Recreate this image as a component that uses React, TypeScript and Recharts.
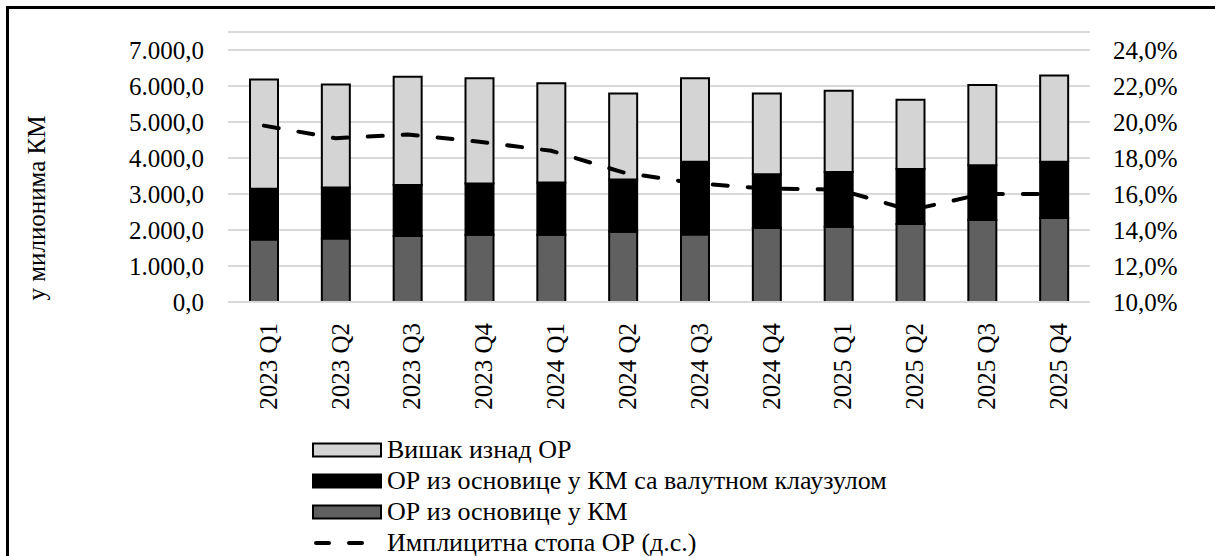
import React from 'react';
import { ComposedChart, Bar, Line, XAxis, YAxis, CartesianGrid, Legend, ReferenceArea } from 'recharts';

const quarters = ['2023 Q1', '2023 Q2', '2023 Q3', '2023 Q4', '2024 Q1', '2024 Q2', '2024 Q3', '2024 Q4', '2025 Q1', '2025 Q2', '2025 Q3', '2025 Q4'];
// у милионима КМ
const rrKm = [1739, 1767, 1832, 1869, 1869, 1952, 1878, 2054, 2091, 2165, 2276, 2331];
const rrKmFx = [1406, 1415, 1415, 1424, 1452, 1452, 2017, 1498, 1517, 1526, 1526, 1564];
const surplus = [3034, 2859, 3007, 2923, 2757, 2387, 2321, 2239, 2257, 1924, 2229, 2395];
// имплицитна стопа, %
const impliedRate = [19.8, 19.1, 19.3, 18.9, 18.4, 17.2, 16.6, 16.3, 16.25, 15.1, 16.0, 16.0];

const leftTicks = [0, 1000, 2000, 3000, 4000, 5000, 6000, 7000];
const rightTicks = [10, 12, 14, 16, 18, 20, 22, 24];

const FONT = 'Liberation Serif, Tinos, Times New Roman, DejaVu Serif, Noto Serif, FreeSerif, serif';
const W = 1215;
const H = 556;
const PLOT_LEFT = 228;
const PLOT_RIGHT = 1090;
const PLOT_TOP = 32;
const PLOT_BOTTOM = 302;

const chartData = quarters.map((q, i) => ({
  q,
  km: rrKm[i],
  kmFx: rrKmFx[i],
  surplus: surplus[i],
  rate: impliedRate[i],
}));

const legendItems = [
  { name: 'Вишак изнад ОР', fill: '#d4d4d4', kind: 'bar' },
  { name: 'ОР из основице у КМ са валутном клаузулом', fill: '#000000', kind: 'bar' },
  { name: 'ОР из основице у КМ', fill: '#606060', kind: 'bar' },
  { name: 'Имплицитна стопа ОР (д.с.)', fill: '#000000', kind: 'line' },
];

const fmtLeft = (v: number) => {
  const [i, d] = v.toFixed(1).split('.');
  return i.replace(/\B(?=(\d{3})+(?!\d))/g, '.') + ',' + d;
};
const fmtRight = (v: number) => v.toFixed(1).replace('.', ',') + '%';

const XTick = (props: any) => {
  const { x, y, payload } = props;
  return (
    <text
      x={x + 4}
      y={y}
      transform={`rotate(-90, ${x + 4}, ${y})`}
      textAnchor="end"
      dy="0.35em"
      fill="#000"
      fontSize={25}
      style={{ fontFamily: FONT }}
    >
      {payload.value}
    </text>
  );
};

// axis title sits a bit below the plot centre, as in the source
const YTitle = () => {
  const cy = 208;
  return (
    <text x={36} y={cy} transform={`rotate(-90, 36, ${cy})`} textAnchor="middle" dy="0.35em" fill="#000" fontSize={25} style={{ fontFamily: FONT }}>
      у милионима КМ
    </text>
  );
};

const LegendBox = () => (
  <div style={{ fontFamily: FONT, fontSize: 26, color: '#000' }}>
    {legendItems.map((it) => (
      <div key={it.name} style={{ display: 'flex', alignItems: 'center', height: 31, whiteSpace: 'nowrap' }}>
        <svg width={70} height={16} style={{ marginRight: 5 }}>
          {it.kind === 'bar' ? (
            <rect x={1} y={1.5} width={68} height={13} fill={it.fill} stroke="#000" strokeWidth={2} />
          ) : (
            <line x1={4} y1={8} x2={60} y2={8} stroke="#000" strokeWidth={4} strokeDasharray="13 20" strokeLinecap="round" />
          )}
        </svg>
        <span>{it.name}</span>
      </div>
    ))}
  </div>
);

export default function App() {
  const pw = PLOT_RIGHT - PLOT_LEFT;
  const ph = PLOT_BOTTOM - PLOT_TOP;
  const tickStyle = { fill: '#000', fontSize: 25, style: { fontFamily: FONT } };
  return (
    <div style={{ position: 'fixed', left: 0, top: 0, width: W, height: H, overflow: 'hidden', background: '#fff', fontFamily: FONT }}>
      <div style={{ position: 'absolute', left: 6, top: 6, width: 1400, height: 800, border: '3px solid #000' }} />
      <div style={{ position: 'absolute', left: 0, top: 0 }}>
        <ComposedChart width={W} height={H} data={chartData} margin={{ top: PLOT_TOP, right: 0, bottom: 0, left: 0 }} barGap={0} style={{ fontFamily: FONT }}>
          <CartesianGrid vertical={false} stroke="#d9d9d9" strokeWidth={2} yAxisId="left" />
          <XAxis
            dataKey="q"
            height={H - PLOT_BOTTOM}
            tickLine={false}
            axisLine={{ stroke: '#d9d9d9', strokeWidth: 2 }}
            tick={<XTick />}
            tickMargin={15}
            interval={0}
          />
          <YAxis
            yAxisId="left"
            width={PLOT_LEFT}
            domain={[0, 7500]}
            ticks={leftTicks}
            tickFormatter={fmtLeft}
            tickLine={false}
            axisLine={false}
            tickMargin={18}
            tick={tickStyle}
            label={<YTitle />}
          />
          <YAxis
            yAxisId="right"
            orientation="right"
            width={W - PLOT_RIGHT}
            domain={[10, 25]}
            ticks={rightTicks}
            tickFormatter={fmtRight}
            tickLine={false}
            axisLine={false}
            tickMargin={17}
            tick={{ ...tickStyle, textAnchor: 'start' }}
          />
          <Bar yAxisId="left" dataKey="km" name="ОР из основице у КМ" stackId="a" fill="#606060" stroke="#000" strokeWidth={2} barSize={28} isAnimationActive={false} />
          <Bar yAxisId="left" dataKey="kmFx" name="ОР из основице у КМ са валутном клаузулом" stackId="a" fill="#000000" stroke="#000" strokeWidth={2} barSize={28} isAnimationActive={false} />
          <Bar yAxisId="left" dataKey="surplus" name="Вишак изнад ОР" stackId="a" fill="#d4d4d4" stroke="#000" strokeWidth={2} barSize={28} isAnimationActive={false} />
          <Line
            yAxisId="right"
            dataKey="rate"
            name="Имплицитна стопа ОР (д.с.)"
            type="linear"
            stroke="#000"
            strokeWidth={4}
            strokeDasharray="15 20"
            strokeLinecap="round"
            dot={false}
            activeDot={false}
            isAnimationActive={false}
          />
          <ReferenceArea
            yAxisId="left"
            fill="none"
            stroke="#000"
            strokeWidth={2}
            strokeDasharray={`${pw + ph} ${pw} ${ph} 0`}
            ifOverflow="visible"
          />
          <Legend
            layout="horizontal"
            verticalAlign="middle"
            align="center"
            content={<LegendBox />}
            wrapperStyle={{ left: 312, top: 434, width: 'auto', height: 'auto' }}
          />
        </ComposedChart>
      </div>
    </div>
  );
}
